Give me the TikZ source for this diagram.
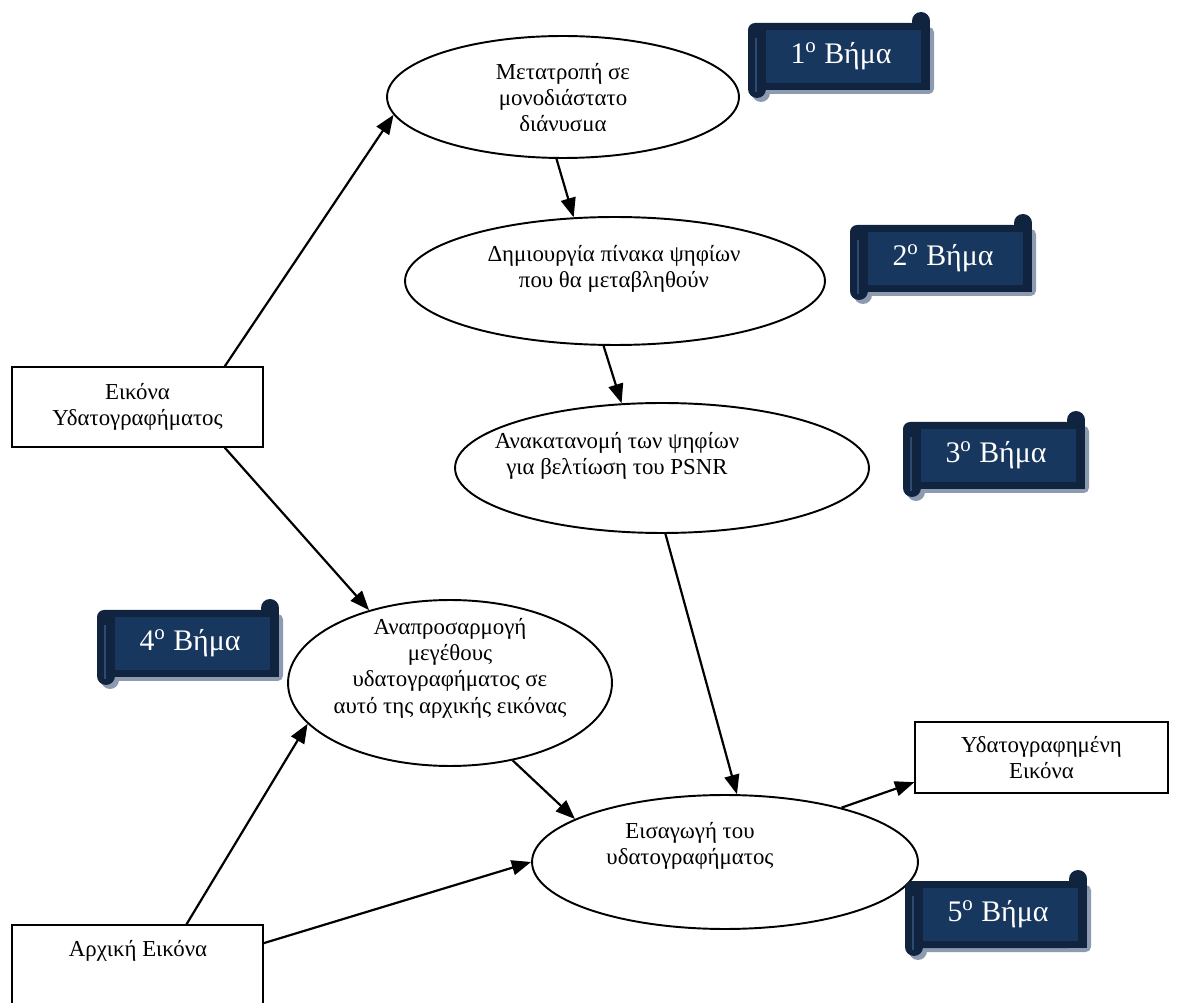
\documentclass[tikz,border=0pt]{standalone}
\usepackage{fontspec}
\setmainfont{Liberation Serif}
\usetikzlibrary{arrows.meta,shapes.geometric,calc}

\definecolor{scrolldark}{HTML}{11243F}
\definecolor{scrollfill}{HTML}{17375E}
\definecolor{scrollshade}{HTML}{8D9BB1}
\definecolor{scrollline}{HTML}{2C4A72}

\tikzset{
	ell/.style={draw, ellipse, line width=1.1pt, inner sep=0pt},
	box/.style={draw, rectangle, line width=0.8pt, inner sep=0pt},
	txt/.style={align=center, font=\fontsize{13}{15}\selectfont},
	steptext/.style={text=white, font=\fontsize{17}{20}\selectfont},
	arr/.style={line width=1.25pt, -{Triangle[length=11pt,width=8.5pt]}}
}

% scroll banner: #1 name, #2,#3 top left corner, #4 step number
\newcommand{\stepscroll}[4]{%
	\begin{scope}[shift={(#2,#3)}]
		\begin{scope}[shift={(4,4)}, fill=scrollshade]
			\fill[rounded corners=3pt] (0,11) rectangle (182,78);
			\fill (9,77) circle[radius=0.18cm];
		\end{scope}
		\fill[scrolldark, rounded corners=4pt] (0,11) rectangle (170,78);
		\fill[scrolldark] (164,9) rectangle (182,78);
		\fill[scrolldark] (173,9) circle[radius=0.18cm];
		\fill[scrolldark] (0,20) rectangle (18,77);
		\fill[scrolldark] (9,77) circle[radius=0.18cm];
		\fill[scrollfill] (18,18) rectangle (173,71);
		\draw[scrollline, line width=0.6pt] (8,26) -- (8,80);
		\node[steptext] (#1) at (93,44) {#4\textsuperscript{o} Βήμα};
	\end{scope}}

\begin{document}
\begin{tikzpicture}[x=0.02cm, y=-0.02cm]
	\clip (0,0) rectangle (1181,1003);

	% steps
	\node[ell, minimum width=7.04cm, minimum height=2.44cm] (e1) at (563,97) {};
	\node[ell, minimum width=8.4cm, minimum height=2.56cm] (e2) at (615,281) {};
	\node[ell, minimum width=8.28cm, minimum height=2.6cm] (e3) at (662,468) {};
	\node[ell, minimum width=6.48cm, minimum height=3.32cm] (e4) at (450,683) {};
	\node[ell, minimum width=7.72cm, minimum height=2.68cm] (e5) at (725,862) {};

	\begin{scope}
		\clip (380,30) rectangle (750,131);
		\node[txt] (t1) at (563,100) {Μετατροπή σε\\μονοδιάστατο\\διάνυσμα};
	\end{scope}
	\node[txt] (t2) at (614,269) {Δημιουργία πίνακα ψηφίων\\που θα μεταβληθούν};
	\node[txt] (t3) at (617,456) {Ανακατανομή των ψηφίων\\για βελτίωση του PSNR};
	\node[txt] (t4) at (450,668) {Αναπροσαρμογή\\μεγέθους\\υδατογραφήματος σε\\αυτό της αρχικής εικόνας};
	\node[txt] (t5) at (690,846) {Εισαγωγή του\\υδατογραφήματος};

	% images
	\node[box, minimum width=5.02cm, minimum height=1.6cm, txt] (w1) at (137.5,407) {Εικόνα\\Υδατογραφήματος};
	\node[box, minimum width=5.02cm, minimum height=1.8cm] (r1) at (137.5,970) {};
	\node[txt] (t6) at (138,951) {Αρχική Εικόνα};
	\node[box, minimum width=5.06cm, minimum height=1.42cm, txt] (r2) at (1041.5,757.5) {Υδατογραφημένη\\Εικόνα};

	% arrows
	\draw[arr] (w1.25) -- (e1.186);
	\draw[arr] (e1.264) -- (e2.123);
	\draw[arr] (e2.260) -- (e3.122);
	\draw[arr] (e3.273) -- (e5.80);
	\draw[arr] (w1.335) -- (e4.138);
	\draw[arr] (e4.309) -- (e5.164);
	\draw[arr] (r1.43) -- (e4.196);
	\draw[arr] (r1.12) -- (e5.180);
	\draw[arr] (e5.25) -- (r2.191);

	% step banners
	\stepscroll{s1}{748}{12}{1}
	\stepscroll{s2}{850}{214}{2}
	\stepscroll{s3}{903}{411}{3}
	\stepscroll{s4}{97}{599}{4}
	\stepscroll{s5}{905}{870}{5}
\end{tikzpicture}
\end{document}
